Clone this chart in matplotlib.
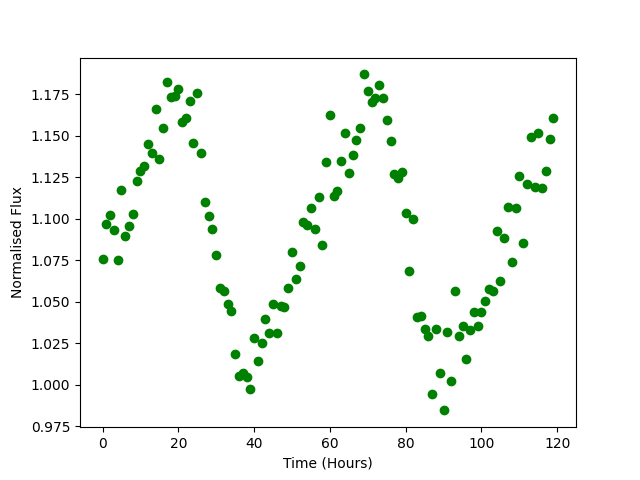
import numpy as np
import matplotlib
matplotlib.use('Agg')
import matplotlib.pyplot as plt

# Time in hours (one sample per hour)
time_hours = np.arange(120)

# Normalised flux
flux = [
    1.0755, 1.0966, 1.1020, 1.0930, 1.0750, 1.1170, 1.0895, 1.0955, 1.1026, 1.1230,
    1.1290, 1.1315, 1.1447, 1.1393, 1.1660, 1.1357, 1.1544, 1.1826, 1.1730, 1.1736,
    1.1784, 1.1583, 1.1604, 1.1706, 1.1455, 1.1760, 1.1393, 1.1098, 1.1014, 1.0941,
    1.0779, 1.0580, 1.0564, 1.0486, 1.0442, 1.0185, 1.0052, 1.0069, 1.0045, 0.9972,
    1.0281, 1.0141, 1.0250, 1.0396, 1.0310, 1.0484, 1.0315, 1.0474, 1.0466, 1.0580,
    1.0797, 1.0635, 1.0713, 1.0978, 1.0960, 1.1064, 1.0941, 1.1128, 1.0840, 1.1339,
    1.1622, 1.1134, 1.1168, 1.1345, 1.1519, 1.1273, 1.1381, 1.1477, 1.1544, 1.1869,
    1.1772, 1.1700, 1.1724, 1.1808, 1.1724, 1.1592, 1.1471, 1.1267, 1.1243, 1.1279,
    1.1032, 1.0683, 1.0996, 1.0406, 1.0415, 1.0339, 1.0291, 0.9942, 1.0339, 1.0069,
    0.9846, 1.0321, 1.0026, 1.0564, 1.0291, 1.0352, 1.0153, 1.0333, 1.0436, 1.0352,
    1.0436, 1.0504, 1.0576, 1.0564, 1.0924, 1.0628, 1.0881, 1.1070, 1.0737, 1.1062,
    1.1260, 1.0851, 1.1212, 1.1495, 1.1194, 1.1519, 1.1188, 1.1285, 1.1483, 1.1604,
]

fig, ax = plt.subplots(figsize=(6.4, 4.8), dpi=100)
ax.plot(time_hours, flux, 'o', color='green')
ax.set_xlabel('Time (Hours)')
ax.set_ylabel('Normalised Flux')

plt.savefig('out.png')
plt.close()
